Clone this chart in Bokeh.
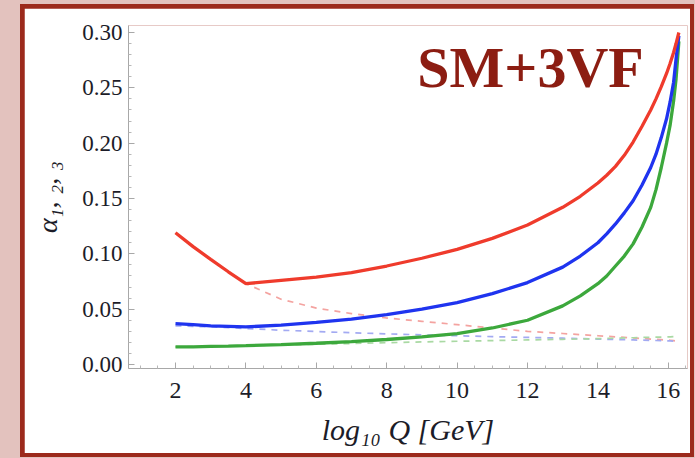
from bokeh.plotting import figure
from bokeh.layouts import column
from bokeh.models import FixedTicker, Range1d, Label
from bokeh.embed import file_html
from bokeh.resources import INLINE

# ---- data ----
log10_q = [2, 2.5, 3, 3.5, 4, 5, 6, 7, 8, 9, 10, 11, 12, 13, 13.5, 14, 14.25,
           14.5, 14.75, 15, 15.25, 15.5, 15.65, 15.8, 15.95, 16.05, 16.15,
           16.22, 16.3]

alpha3_3vf = [0.119, 0.1065, 0.095, 0.0838, 0.073, 0.076, 0.079, 0.083, 0.089,
              0.096, 0.104, 0.114, 0.126, 0.142, 0.152, 0.164, 0.171, 0.179,
              0.189, 0.201, 0.215, 0.230, 0.240, 0.251, 0.263, 0.272, 0.282,
              0.290, 0.300]
alpha2_3vf = [0.037, 0.036, 0.035, 0.0345, 0.034, 0.0355, 0.038, 0.041, 0.045,
              0.050, 0.056, 0.064, 0.074, 0.088, 0.098, 0.110, 0.118, 0.127,
              0.137, 0.148, 0.162, 0.178, 0.190, 0.205, 0.222, 0.237, 0.255,
              0.276, 0.297]
alpha1_3vf = [0.016, 0.016, 0.0163, 0.0166, 0.017, 0.018, 0.0192, 0.0207,
              0.0226, 0.025, 0.028, 0.033, 0.040, 0.053, 0.062, 0.073, 0.080,
              0.089, 0.098, 0.109, 0.124, 0.142, 0.158, 0.178, 0.200, 0.216,
              0.238, 0.258, 0.292]

alpha3_sm = [0.119, 0.1065, 0.095, 0.0838, 0.073, 0.059, 0.051, 0.046, 0.042,
             0.039, 0.036, 0.033, 0.030, 0.028, 0.027, 0.026, 0.0255, 0.025,
             0.0245, 0.024, 0.0235, 0.023, 0.0227, 0.0224, 0.0221, 0.0219,
             0.0216, 0.0213, 0.021]
alpha2_sm = [0.035, 0.0345, 0.034, 0.0333, 0.0325, 0.031, 0.0298, 0.0287,
             0.0277, 0.0268, 0.026, 0.0252, 0.0245, 0.0238, 0.0234, 0.023,
             0.0228, 0.0226, 0.0224, 0.0222, 0.022, 0.0218, 0.0217, 0.0216,
             0.0214, 0.0213, 0.0212, 0.0211, 0.021]
alpha1_sm = [0.016, 0.0162, 0.0164, 0.0167, 0.017, 0.0176, 0.0183, 0.019,
             0.0197, 0.0204, 0.021, 0.0216, 0.0222, 0.0228, 0.0231, 0.0234,
             0.0236, 0.0238, 0.024, 0.0242, 0.0244, 0.0246, 0.0247, 0.0248,
             0.0249, 0.025, 0.0252, 0.0253, 0.0254]

x_major = [2, 4, 6, 8, 10, 12, 14, 16]
x_minor = [1.0, 1.5, 2.5, 3.0, 3.5, 4.5, 5.0, 5.5, 6.5, 7.0, 7.5, 8.5, 9.0, 9.5,
           10.5, 11.0, 11.5, 12.5, 13.0, 13.5, 14.5, 15.0, 15.5, 16.5]
y_major = [0.0, 0.05, 0.10, 0.15, 0.20, 0.25, 0.30]
y_labels = ["0.00", "0.05", "0.10", "0.15", "0.20", "0.25", "0.30"]
y_minor = [0.01, 0.02, 0.03, 0.04, 0.06, 0.07, 0.08, 0.09, 0.11, 0.12, 0.13,
           0.14, 0.16, 0.17, 0.18, 0.19, 0.21, 0.22, 0.23, 0.24, 0.26, 0.27,
           0.28, 0.29]

title_text = "SM+3VF"

# ---- styles ----
PINK = "#e3c2be"
FRAME_RED = "#9c2a1c"
RED = "#ef3b2c"
BLUE = "#1f34ef"
GREEN = "#3ca83c"
SERIF = "Liberation Serif"

p = figure(width=666, height=445, output_backend="svg", toolbar_location=None,
           x_range=Range1d(0.665, 16.545), y_range=Range1d(-0.0036, 0.3063),
           min_border_left=104, min_border_right=3, min_border_top=17,
           min_border_bottom=85, margin=(4, 4, 4, 4))
p.border_fill_color = "white"
p.background_fill_color = "white"
p.outline_line_color = None
p.grid.visible = False

# SM (dashed)
p.line(log10_q, alpha3_sm, line_color="#f4a3a0", line_width=1.7, line_dash="6 6")
p.line(log10_q, alpha2_sm, line_color="#a3aaf2", line_width=1.7, line_dash="6 6")
p.line(log10_q, alpha1_sm, line_color="#a9d9a3", line_width=1.7, line_dash="6 6")
# SM + 3VF (solid)
p.line(log10_q, alpha1_3vf, line_color=GREEN, line_width=3.3)
p.line(log10_q, alpha2_3vf, line_color=BLUE, line_width=3.3)
p.line(log10_q, alpha3_3vf, line_color=RED, line_width=3.3)

p.add_layout(Label(x=8.87, y=0.268, text=title_text, text_font=SERIF,
                   text_font_style="bold", text_font_size="58px",
                   text_color="#8c1d12", text_baseline="middle"))

for ax in (p.xaxis[0], p.yaxis[0]):
    ax.axis_line_color = "#a8a8a8"
    ax.axis_line_width = 1
    ax.major_tick_line_color = "#a8a8a8"
    ax.minor_tick_line_color = "#b8b8b8"
    ax.major_tick_in = 6
    ax.major_tick_out = 0
    ax.minor_tick_in = 3
    ax.minor_tick_out = 0
    ax.major_label_text_font = SERIF
    ax.major_label_text_color = "#1c1c28"
    ax.axis_label_text_font = SERIF
    ax.axis_label_text_font_style = "italic"
    ax.axis_label_text_color = "#1c1c28"

p.xaxis.ticker = FixedTicker(ticks=x_major, minor_ticks=x_minor)
p.yaxis.ticker = FixedTicker(ticks=y_major, minor_ticks=y_minor)
p.yaxis.major_label_overrides = dict(zip(y_major, y_labels))
p.xaxis.major_label_text_font_size = "24px"
p.yaxis.major_label_text_font_size = "23px"
p.xaxis.major_label_standoff = 14
p.yaxis.major_label_standoff = 6

p.xaxis.axis_label = "log\u2081\u2080 Q [GeV]"
p.xaxis.axis_label_text_font_size = "30px"
p.xaxis.axis_label_standoff = 12
p.yaxis.axis_label = "\u03b1\u2081, \u2082, \u2083"
p.yaxis.axis_label_text_font_size = "28px"
p.yaxis.axis_label_standoff = 16

red_frame = column(p, width=674, height=453, margin=(4, 0, 0, 20),
                   styles={"background-color": FRAME_RED})
page = column(red_frame, width=695, height=458,
              styles={"background-color": PINK})

open("out.html", "w").write(file_html(page, INLINE))
